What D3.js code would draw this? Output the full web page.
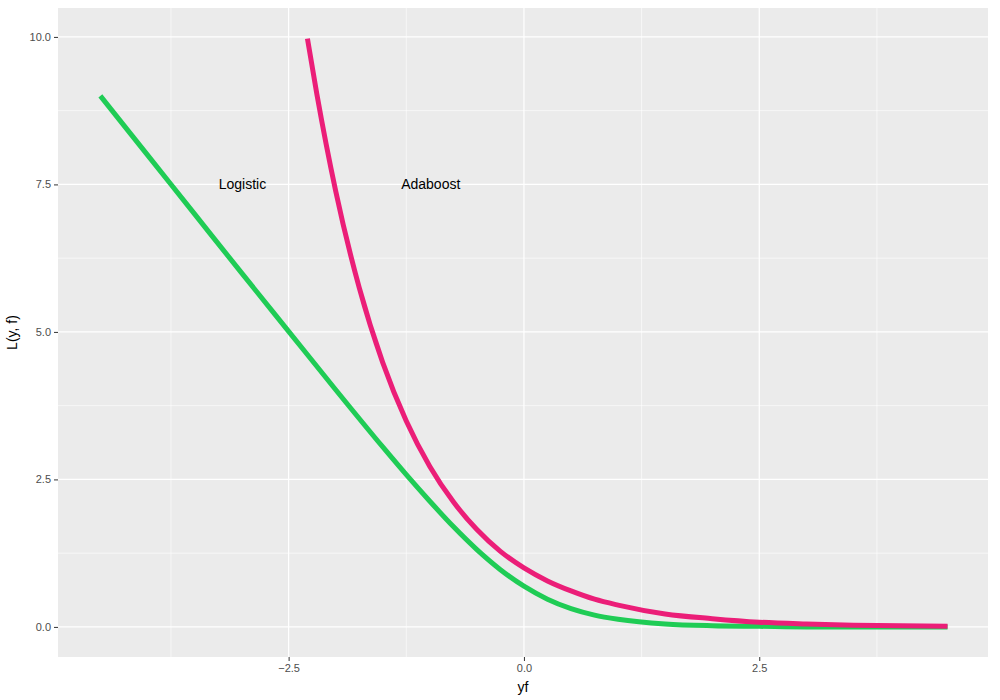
<!DOCTYPE html>
<html><head><meta charset="utf-8">
<script src="https://cdn.jsdelivr.net/npm/d3@7"></script>
<style>body{margin:0;background:#fff;font-family:"Liberation Sans",Arial,sans-serif}</style>
</head><body>
<script>
// values
var adaX = [-2.3,-2.2,-2,-1.75,-1.5,-1.25,-1,-0.75,-0.5,-0.25,0,0.25,0.5,0.75,1,1.5,2,2.5,3,3.5,4,4.5]
var adaY = [9.97,9.03,7.39,5.75,4.48,3.49,2.72,2.12,1.65,1.28,1.0,0.78,0.61,0.47,0.37,0.22,0.14,0.08,0.05,0.03,0.02,0.01]
var logX = [-4.5,-4,-3.5,-3,-2.5,-2,-1.5,-1.25,-1,-0.75,-0.5,-0.25,0,0.25,0.5,0.75,1,1.5,2,2.5,3,3.5,4,4.5]
var logY = [9.0,8.0,7.0,6.0,5.01,4.02,3.05,2.58,2.13,1.70,1.31,0.97,0.69,0.47,0.31,0.20,0.13,0.05,0.02,0.01,0,0,0,0]
var xTicks = [-2.5, 0, 2.5]
var yTicks = [0, 2.5, 5, 7.5, 10]
var labels = [{text: 'Logistic', x: -2.99, y: 7.5}, {text: 'Adaboost', x: -0.99, y: 7.5}]

var W = 1000, H = 700, L = 58, R = 988, T = 8, B = 657
var svg = d3.select('body').append('svg').attr('width', W).attr('height', H)
var x = d3.scaleLinear().domain([-4.95, 4.93]).range([L, R])
var y = d3.scaleLinear().domain([-0.51, 10.49]).range([B, T])

svg.append('rect').attr('x', L).attr('y', T).attr('width', R - L).attr('height', B - T).attr('fill', '#ebebeb')

var xMinor = [-3.75, -1.25, 1.25, 3.75], yMinor = [1.25, 3.75, 6.25, 8.75]
svg.selectAll('.vm').data(xMinor).enter().append('line')
	.attr('x1', x).attr('x2', x).attr('y1', T).attr('y2', B).attr('stroke', '#fff').attr('stroke-width', 0.6)
svg.selectAll('.hm').data(yMinor).enter().append('line')
	.attr('y1', y).attr('y2', y).attr('x1', L).attr('x2', R).attr('stroke', '#fff').attr('stroke-width', 0.6)
svg.selectAll('.vM').data(xTicks).enter().append('line')
	.attr('x1', x).attr('x2', x).attr('y1', T).attr('y2', B).attr('stroke', '#fff').attr('stroke-width', 1.2)
svg.selectAll('.hM').data(yTicks).enter().append('line')
	.attr('y1', y).attr('y2', y).attr('x1', L).attr('x2', R).attr('stroke', '#fff').attr('stroke-width', 1.2)

var line = d3.line().x(function (d) { return x(d[0]) }).y(function (d) { return y(d[1]) }).curve(d3.curveMonotoneX)
svg.append('path').datum(d3.zip(logX, logY)).attr('d', line).attr('fill', 'none').attr('stroke', '#1fcc55').attr('stroke-width', 5)
svg.append('path').datum(d3.zip(adaX, adaY)).attr('d', line).attr('fill', 'none').attr('stroke', '#eb1e78').attr('stroke-width', 5)

svg.selectAll('.lab').data(labels).enter().append('text')
	.attr('x', function (d) { return x(d.x) }).attr('y', function (d) { return y(d.y) + 5 })
	.attr('text-anchor', 'middle').attr('font-size', 14).text(function (d) { return d.text })

var xa = svg.append('g').attr('transform', 'translate(0,' + B + ')')
	.call(d3.axisBottom(x).tickValues(xTicks).tickFormat(d3.format('.1f')).tickSize(4))
var ya = svg.append('g').attr('transform', 'translate(' + L + ',0)')
	.call(d3.axisLeft(y).tickValues(yTicks).tickFormat(d3.format('.1f')).tickSize(4))
;[xa, ya].forEach(function (a) {
	a.select('.domain').remove()
	a.selectAll('line').attr('stroke', '#333')
	a.selectAll('text').attr('fill', '#4d4d4d').attr('font-size', 11).attr('font-family', '"Liberation Sans",Arial,sans-serif')
})
svg.append('text').attr('x', (L + R) / 2).attr('y', 692).attr('text-anchor', 'middle').attr('font-size', 14).text('yf')
svg.append('text').attr('transform', 'translate(17,' + ((T + B) / 2) + ') rotate(-90)').attr('text-anchor', 'middle').attr('font-size', 14).text('L(y, f)')
</script>
</body></html>
